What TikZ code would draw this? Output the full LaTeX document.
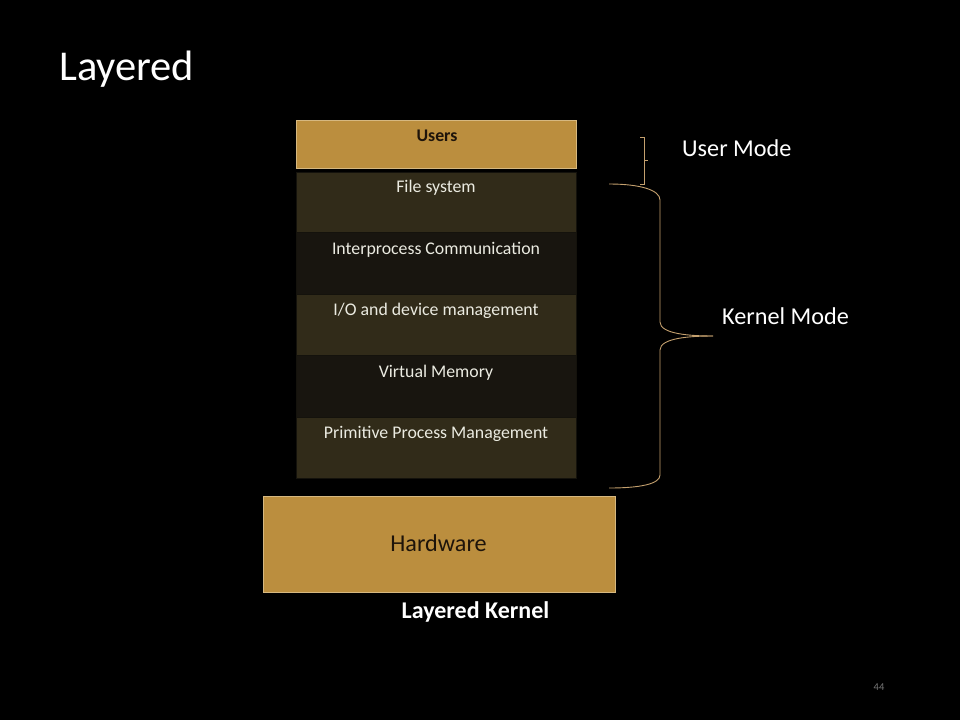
\documentclass[tikz,border=0pt]{standalone}
\usepackage{fontspec}
\setmainfont{Carlito}
\begin{document}
\begin{tikzpicture}[x=1pt,y=-1pt,
  gold/.style={fill={rgb,255:red,187;green,142;blue,62}, draw={rgb,255:red,214;green,184;blue,128}, line width=0.8pt},
  layerA/.style={fill={rgb,255:red,49;green,43;blue,25}, draw={rgb,255:red,20;green,18;blue,12}, line width=0.8pt},
  layerB/.style={fill={rgb,255:red,24;green,21;blue,15}, draw={rgb,255:red,20;green,18;blue,12}, line width=0.8pt},
  box/.style={rectangle, inner sep=0pt, anchor=north west},
  layertext/.style={anchor=base, inner sep=0pt, text={rgb,255:red,235;green,235;blue,225}, font=\fontsize{17.8}{19}\selectfont},
  brace/.style={draw={rgb,255:red,196;green,160;blue,110}, line width=0.9pt},
  modetext/.style={anchor=base west, inner sep=0pt, text=white, font=\fontsize{24.2}{26}\selectfont}]
\useasboundingbox[fill=black] (0,0) rectangle (960,720);

% title
\node[anchor=base west, text=white, font=\fontsize{42.5}{46}\selectfont, inner sep=0pt] (title) at (59,80) {Layered};

% user layer
\node[box, gold, minimum width=280, minimum height=48] (users) at (296,120) {};
\node[anchor=base, inner sep=0pt, font=\bfseries\fontsize{17.8}{19}\selectfont, text={rgb,255:red,30;green,20;blue,10}] (userst) at (437,141.5) {Users};

% kernel layers
\node[box, layerA, minimum width=280, minimum height=60] (fs) at (296,172) {};
\node[box, layerB, minimum width=280, minimum height=62] (ipc) at (296,232) {};
\node[box, layerA, minimum width=280, minimum height=61] (io) at (296,294) {};
\node[box, layerB, minimum width=280, minimum height=62] (vm) at (296,355) {};
\node[box, layerA, minimum width=280, minimum height=61] (ppm) at (296,417) {};
\node[layertext] (fst) at (436,192.5) {File system};
\node[layertext] (ipct) at (436,254) {Interprocess Communication};
\node[layertext] (iot) at (436,315.5) {I/O and device management};
\node[layertext] (vmt) at (436,377) {Virtual Memory};
\node[layertext] (ppmt) at (436,438.5) {Primitive Process Management};

% hardware
\node[box, gold, minimum width=352, minimum height=96] (hw) at (263,496) {};
\node[anchor=base, inner sep=0pt, font=\fontsize{24.2}{26}\selectfont, text={rgb,255:red,30;green,20;blue,10}] (hwt) at (438.5,551.5) {Hardware};
\node[anchor=base, inner sep=0pt, font=\bfseries\fontsize{24}{26}\selectfont, text=white] (cap) at (475.5,618) {Layered Kernel};

% user mode brace
\draw[brace] (640,137) -- (644,137) -- (644,184) -- (640,184);
\draw[brace] (644,160) -- (648,160);
\node[modetext] (um) at (682,156) {User Mode};

% kernel mode brace
\coordinate (ktop) at (609,184);
\coordinate (kbot) at (609,488);
\coordinate (ktip) at (713,336);
\draw[brace] (ktop) .. controls (640,184) and (660,190) .. (660,200)
  -- (660,322) .. controls (660,334) and (690,336) .. (ktip);
\draw[brace] (ktip) .. controls (690,336) and (660,338) .. (660,350)
  -- (660,475) .. controls (660,484) and (640,488) .. (kbot);
\node[modetext] (km) at (722,324) {Kernel Mode};

% slide number
\node[anchor=base, inner sep=0pt, text={rgb,255:red,120;green,120;blue,120}, font=\fontsize{10.5}{12}\selectfont] (num) at (879,690) {44};
\end{tikzpicture}
\end{document}
